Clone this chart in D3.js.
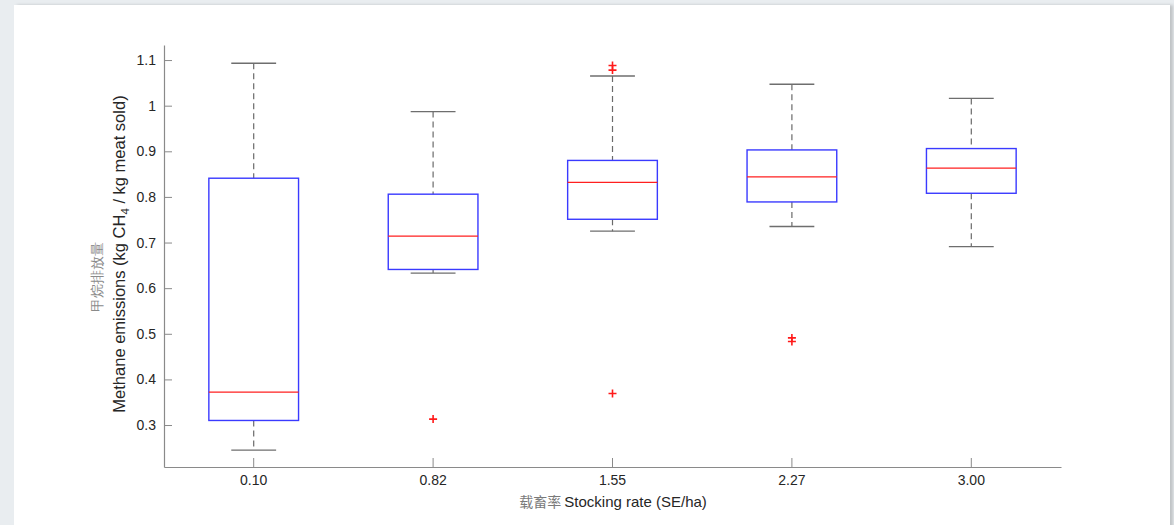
<!DOCTYPE html>
<html>
<head>
<meta charset="utf-8">
<script src="https://cdn.jsdelivr.net/npm/d3@7"></script>
<style>
  html, body { margin: 0; padding: 0; background: #e9edf0; }
  #card { position: absolute; left: 14px; top: 5px; width: 1156px; height: 540px; background: #fff;
          box-shadow: 3px 0 3px rgba(0,0,0,0.18); }
  svg { position: absolute; left: 0; top: 0; }
  text { font-family: "Liberation Sans", Arial, sans-serif; }
</style>
</head>
<body>
<div id="card"></div>
<svg id="chart" width="1174" height="525"></svg>
<script>
// Stocking-rate groups (SE/ha)
const categories = ["0.10", "0.82", "1.55", "2.27", "3.00"];
// Box statistics per group: lower whisker, Q1, median, Q3, upper whisker
const whiskerLow  = [0.245, 0.633, 0.725, 0.735, 0.691];
const quartile1   = [0.310, 0.641, 0.751, 0.789, 0.808];
const medians     = [0.372, 0.714, 0.832, 0.844, 0.863];
const quartile3   = [0.841, 0.806, 0.880, 0.903, 0.906];
const whiskerHigh = [1.093, 0.987, 1.065, 1.047, 1.016];
// Outliers per group
const outliers = [[], [0.313], [0.369, 1.078, 1.088], [0.483, 0.491], []];
const yTicks = [0.3, 0.4, 0.5, 0.6, 0.7, 0.8, 0.9, 1.0, 1.1];

const svg = d3.select("#chart");
const x = d3.scaleBand().domain(categories).range([164, 1061]).padding(0);
const y = d3.scaleLinear().domain([0.208, 1.133]).range([467, 45]);

const axisColor = "#8a8a8a";
const textColor = "#262626";

// Axes
const gx = svg.append("g").attr("transform", "translate(0,467)")
  .call(d3.axisBottom(x).tickSize(-9).tickPadding(8).tickSizeOuter(0));
const gy = svg.append("g").attr("transform", "translate(164,0)")
  .call(d3.axisLeft(y).tickValues(yTicks).tickSize(-8).tickPadding(8)
        .tickFormat(d => d3.format("")(+d.toFixed(1))).tickSizeOuter(0));
[gx, gy].forEach(g => {
  g.select(".domain").attr("stroke", axisColor).attr("stroke-width", 1.2);
  g.selectAll(".tick line").attr("stroke", axisColor).attr("stroke-width", 1);
  g.selectAll(".tick text").attr("fill", textColor).attr("font-size", 14)
    .attr("font-family", "'Liberation Sans', Arial, sans-serif");
});

const half = x.bandwidth() / 4;   // box half-width
const cap = x.bandwidth() / 8;    // whisker cap half-width
const boxes = svg.append("g").selectAll("g").data(categories).join("g")
  .attr("transform", d => `translate(${x(d) + x.bandwidth() / 2},0)`);

// Dashed whiskers
boxes.append("line").attr("x1", 0).attr("x2", 0)
  .attr("y1", (d, i) => y(whiskerHigh[i])).attr("y2", (d, i) => y(quartile3[i]))
  .attr("stroke", "#6a6a6a").attr("stroke-width", 1.2).attr("stroke-dasharray", "6,4");
boxes.append("line").attr("x1", 0).attr("x2", 0)
  .attr("y1", (d, i) => y(quartile1[i])).attr("y2", (d, i) => y(whiskerLow[i]))
  .attr("stroke", "#6a6a6a").attr("stroke-width", 1.2).attr("stroke-dasharray", "6,4");
// Caps
boxes.append("line").attr("x1", -cap).attr("x2", cap)
  .attr("y1", (d, i) => y(whiskerHigh[i])).attr("y2", (d, i) => y(whiskerHigh[i]))
  .attr("stroke", "#6e6e6e").attr("stroke-width", 1.4);
boxes.append("line").attr("x1", -cap).attr("x2", cap)
  .attr("y1", (d, i) => y(whiskerLow[i])).attr("y2", (d, i) => y(whiskerLow[i]))
  .attr("stroke", "#6e6e6e").attr("stroke-width", 1.4);
// Boxes
boxes.append("rect").attr("x", -half).attr("width", 2 * half)
  .attr("y", (d, i) => y(quartile3[i]))
  .attr("height", (d, i) => y(quartile1[i]) - y(quartile3[i]))
  .attr("fill", "none").attr("stroke", "#3a3aff").attr("stroke-width", 1.4);
// Medians
boxes.append("line").attr("x1", -half).attr("x2", half)
  .attr("y1", (d, i) => y(medians[i])).attr("y2", (d, i) => y(medians[i]))
  .attr("stroke", "#ff2020").attr("stroke-width", 1.2);
// Outliers as '+' markers
boxes.each(function (d, i) {
  d3.select(this).selectAll("path.out").data(outliers[i]).join("path")
    .attr("class", "out")
    .attr("d", v => `M-4,${y(v)}H4M0,${y(v) - 4}V${y(v) + 4}`)
    .attr("stroke", "#ff1a1a").attr("stroke-width", 1.6).attr("fill", "none");
});

// Axis titles
const xt = svg.append("text").attr("x", 613).attr("y", 507).attr("text-anchor", "middle")
  .attr("font-size", 15).attr("fill", textColor);
xt.append("tspan").attr("fill", "#7a7a7a").attr("font-family", "'Noto Sans CJK SC', sans-serif")
  .attr("font-size", 14).text("载畜率 ");
xt.append("tspan").text("Stocking rate (SE/ha)");

svg.append("text").attr("transform", "translate(102,277) rotate(-90)")
  .attr("text-anchor", "middle").attr("font-size", 14).attr("fill", "#8a8a8a")
  .attr("font-family", "'Noto Sans CJK SC', sans-serif").text("甲烷排放量");

const yt = svg.append("text").attr("transform", "translate(125,254) rotate(-90)")
  .attr("text-anchor", "middle").attr("font-size", 16.5).attr("fill", textColor);
yt.append("tspan").text("Methane emissions (kg CH");
yt.append("tspan").attr("font-size", 11.5).attr("dy", 4).text("4");
yt.append("tspan").attr("dy", -4).text(" / kg meat sold)");
</script>
</body>
</html>
